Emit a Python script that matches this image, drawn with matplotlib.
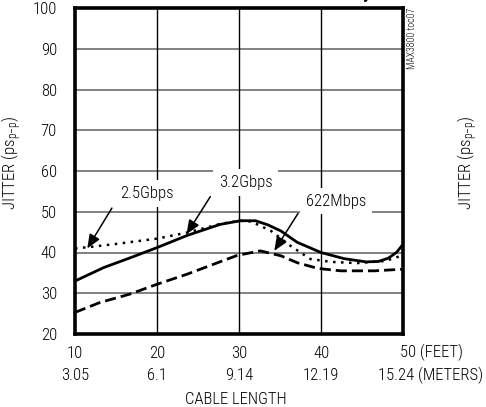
import matplotlib
matplotlib.use('Agg')
import matplotlib.pyplot as plt
from matplotlib.transforms import ScaledTranslation

plt.rcParams['font.family'] = ['Roboto Condensed', 'DejaVu Sans']
plt.rcParams['font.weight'] = 'light'
plt.rcParams['mathtext.fontset'] = 'custom'
plt.rcParams['mathtext.rm'] = 'Roboto Condensed:light'
plt.rcParams['mathtext.it'] = 'Roboto Condensed:light'

# cable length (feet) and jitter (ps p-p)
feet_32 = [10, 13.5, 17, 20, 23.7, 27.7, 30.2, 32, 33.5, 35.1, 37.1, 40, 42.8, 45.5, 47, 48.2, 49.2, 50]
jit_32 = [33.0, 36.3, 38.9, 41.2, 44.2, 46.9, 47.8, 47.8, 46.8, 45.3, 42.5, 40.0, 38.5, 37.7, 37.8, 38.6, 40.0, 42.0]

feet_25 = [10, 12, 15, 20, 23.7, 27.7, 30, 31.5, 33.9, 36.3, 38.7, 41.2, 44.4, 47.7, 49, 50]
jit_25 = [41.0, 41.4, 42.1, 43.4, 44.9, 47.0, 47.8, 47.6, 45.3, 41.6, 38.4, 37.7, 37.4, 37.9, 38.6, 39.5]

feet_622 = [10, 13, 16.7, 20, 23.7, 27, 29.8, 32.6, 35.1, 37.1, 39.6, 42.4, 46.5, 50]
jit_622 = [25.3, 27.7, 29.8, 32.2, 34.7, 37.2, 39.3, 40.4, 39.2, 37.5, 36.1, 35.5, 35.5, 35.9]

x_ticks = [10, 20, 30, 40, 50]
x_feet = ['10', '20', '30', '40', '50 (FEET)']
x_meters = ['3.05', '6.1', '9.14', '12.19', '15.24 (METERS)']
y_ticks = [20, 30, 40, 50, 60, 70, 80, 90, 100]

fs = 12

fig = plt.figure(figsize=(4.86, 4.07), dpi=100)
ax = fig.add_axes([75 / 486, 1 - 334 / 407, 328 / 486, 326 / 407])

ax.set_xlim(10, 50)
ax.set_ylim(20, 100)
ax.set_xticks(x_ticks)
ax.set_xticklabels([''] * len(x_ticks))
ax.set_yticks(y_ticks)
ax.tick_params(length=0, labelsize=fs)
ax.tick_params(axis='y', pad=13)

# two-line x labels (feet over meters); the last one carries the units
px = 1 / 100
for i, (x, f, m) in enumerate(zip(x_ticks, x_feet, x_meters)):
    dx = 28 * px if i == len(x_ticks) - 1 else 0
    t1 = ax.get_xaxis_transform() + ScaledTranslation(dx, -23.5 * px, fig.dpi_scale_trans)
    t2 = ax.get_xaxis_transform() + ScaledTranslation(dx, -46 * px, fig.dpi_scale_trans)
    ax.text(x, 0, f, transform=t1, ha='center', va='baseline', fontsize=fs)
    ax.text(x, 0, m, transform=t2, ha='center', va='baseline', fontsize=fs)

tl = ax.transAxes + ScaledTranslation(0, -70 * px, fig.dpi_scale_trans)
ax.text(0.49, 0, 'CABLE LENGTH', transform=tl, ha='center', va='baseline', fontsize=fs)

for y in y_ticks[1:-1]:
    ax.axhline(y, color='#777777', lw=1.3, zorder=1)
for x in x_ticks[1:-1]:
    ax.axvline(x, color='black', lw=1.0, zorder=1)

for s in ax.spines.values():
    s.set_linewidth(2.6)

ax.plot(feet_622, jit_622, color='black', lw=2.0, dashes=(4, 1.8), zorder=3)
ax.plot(feet_25, jit_25, color='black', lw=1.8, dashes=(1, 2.2), zorder=3)
ax.plot(feet_32, jit_32, color='black', lw=2.0, zorder=4)

box = dict(boxstyle='square,pad=0.35', fc='white', ec='none')
arrow = dict(arrowstyle='-|>,head_length=0.6,head_width=0.25', color='black', lw=1.1,
             mutation_scale=14, shrinkA=0, shrinkB=0)
ax.annotate('', xy=(11.5, 41.0), xytext=(14.5, 50.9), arrowprops=arrow, zorder=5)
ax.text(18.8, 54.5, '2.5Gbps', ha='center', va='center', fontsize=fs, bbox=box, zorder=6)
ax.annotate('', xy=(23.6, 44.5), xytext=(26.5, 53.7), arrowprops=arrow, zorder=5)
ax.text(30.8, 57.2, '3.2Gbps', ha='center', va='center', fontsize=fs, bbox=box, zorder=6)
ax.annotate('', xy=(34.3, 40.4), xytext=(37.2, 49.6), arrowprops=arrow, zorder=5)
ax.text(41.8, 52.6, '622Mbps', ha='center', va='center', fontsize=fs, bbox=box, zorder=6)

ylab = r'JITTER (ps$_{\mathrm{p{-}p}}$)'
fig.text(12 / 486, 1 - 163 / 407, ylab, rotation=90, ha='center', va='center', fontsize=fs)
fig.text(468 / 486, 1 - 163 / 407, ylab, rotation=90, ha='center', va='center', fontsize=fs)

fig.text(412 / 486, 1 - 8 / 407, 'MAX3800 toc07', rotation=90, ha='center', va='top', fontsize=7)
fig.text(367 / 486, 1 + 2 / 407, 'y', ha='center', va='baseline', fontsize=13, fontweight='bold')

fig.savefig('out.png', dpi=100)
